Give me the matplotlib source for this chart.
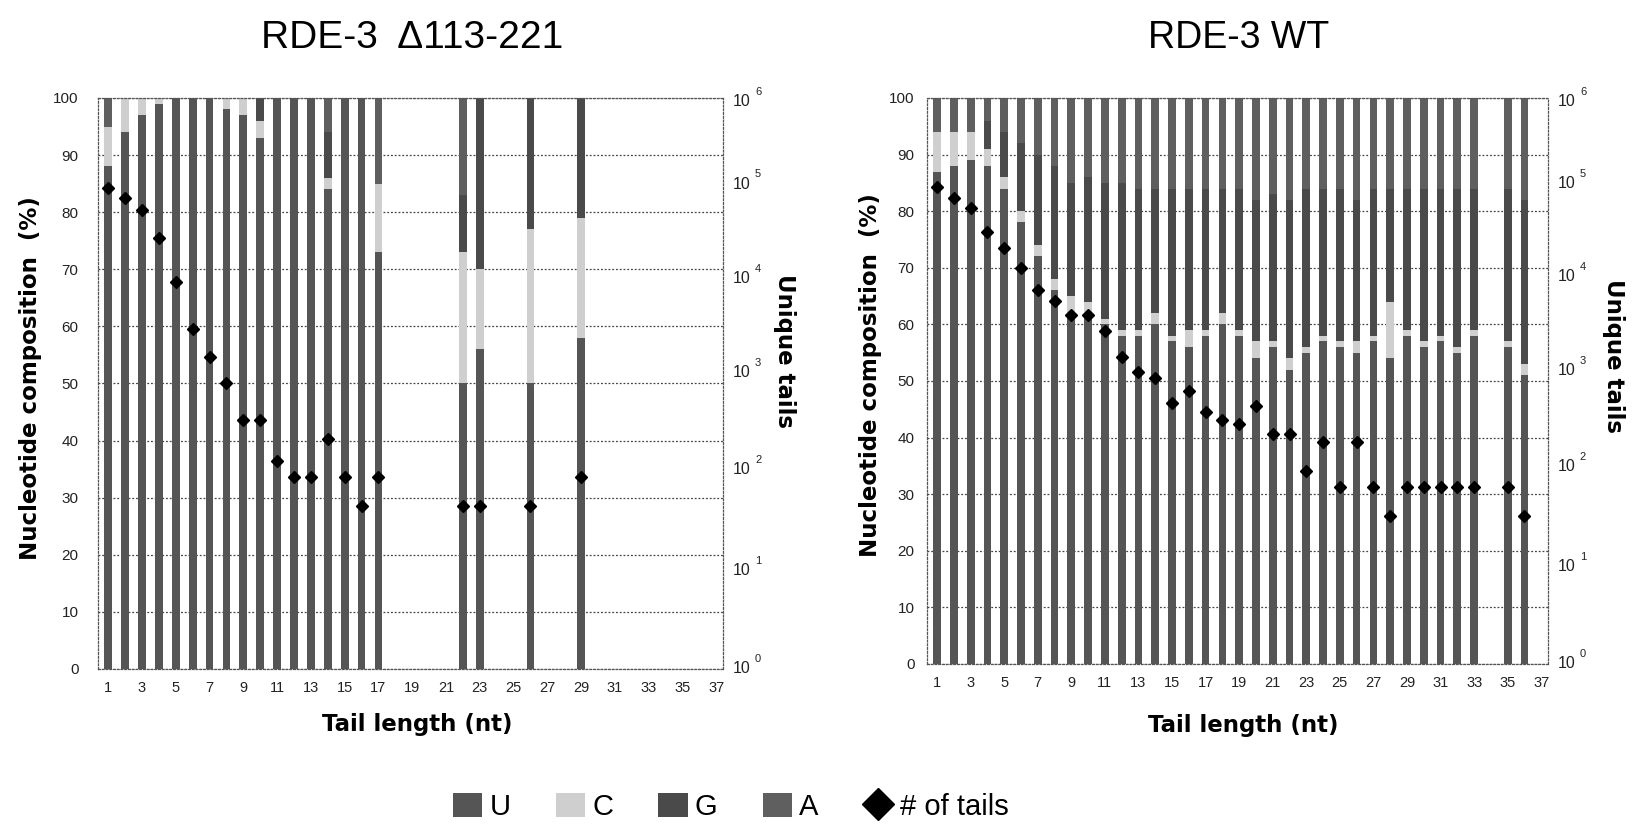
import matplotlib
matplotlib.use("Agg")
import matplotlib.pyplot as plt
from matplotlib.patches import Patch
from matplotlib.lines import Line2D
from matplotlib.ticker import NullLocator

plt.rcParams['font.family'] = ['Liberation Sans', 'DejaVu Sans']

# ---------------- data ----------------
nucleotides = ["U", "C", "G", "A"]
x_ticks = list(range(1, 38, 2))

# RDE-3 delta113-221
del_len = [1, 2, 3, 4, 5, 6, 7, 8, 9, 10, 11, 12, 13, 14, 15, 16, 17, 22, 23, 26, 29]
del_U = [88, 94, 97, 99, 100, 100, 100, 98, 97, 93, 100, 100, 100, 84, 100, 100, 73, 50, 56, 50, 58]
del_C = [7, 6, 3, 1, 0, 0, 0, 2, 3, 3, 0, 0, 0, 2, 0, 0, 12, 23, 14, 27, 21]
del_G = [0, 0, 0, 0, 0, 0, 0, 0, 0, 4, 0, 0, 0, 8, 0, 0, 0, 10, 30, 23, 21]
del_A = [5, 0, 0, 0, 0, 0, 0, 0, 0, 0, 0, 0, 0, 6, 0, 0, 15, 17, 0, 0, 0]
del_tails = [113000, 88000, 66000, 34000, 11600, 3700, 1900, 1000, 415, 415, 155,
             103, 103, 260, 103, 51, 103, 51, 51, 51, 103]

# RDE-3 WT
wt_len = list(range(1, 34)) + [35, 36]
wt_U = [87, 88, 89, 88, 84, 78, 72, 66, 62, 62, 60, 58, 58, 60, 57, 56, 58, 60, 58, 54,
        56, 52, 55, 57, 56, 55, 57, 54, 58, 56, 57, 55, 58, 56, 51]
wt_C = [7, 6, 5, 3, 2, 2, 2, 2, 3, 2, 1, 1, 1, 2, 1, 3, 1, 2, 1, 3,
        1, 2, 1, 1, 1, 2, 1, 10, 1, 1, 1, 1, 1, 1, 2]
wt_G = [0, 0, 0, 5, 8, 12, 16, 20, 20, 22, 24, 26, 25, 22, 26, 25, 25, 22, 25, 25,
        26, 28, 28, 26, 27, 25, 26, 20, 25, 27, 26, 28, 25, 27, 29]
wt_A = [6, 6, 6, 4, 6, 8, 10, 12, 15, 14, 15, 15, 16, 16, 16, 16, 16, 16, 16, 18,
        17, 18, 16, 16, 16, 18, 16, 16, 16, 16, 16, 16, 16, 16, 18]
wt_tails = [114000, 86500, 69000, 38000, 25500, 15900, 9100, 7030, 5060, 5060, 3380,
            1810, 1260, 1080, 578, 782, 466, 386, 350, 547, 274, 274, 112, 227, 75,
            227, 75, 37, 75, 75, 75, 75, 75, 75, 37]

# ---------------- style ----------------
colors = {"U": "#555555", "C": "#cfcfcf", "G": "#4a4a4a", "A": "#5f5f5f"}
grid_col = "#444444"
dot = (0, (1.5, 1.5))

fig = plt.figure(figsize=(16.37, 8.33), dpi=100)
axL = fig.add_axes([0.0599, 0.1969, 0.3818, 0.6855])
axR = fig.add_axes([0.5663, 0.2029, 0.3793, 0.6795])

# vertical offsets (points) of the right-axis labels, as placed in the reference
exp_off = {6: -6, 5: 3.3, 4: 4, 3: 4.5, 2: 3, 1: -1, 0: -3}


def draw(ax, pos, comp, tails, ylab_x, xlab_y, rlab_x, rlab_y, lpad):
    bottom = [0] * len(pos)
    for nt in nucleotides:
        vals = comp[nt]
        ax.bar(pos, vals, width=0.46, bottom=bottom, color=colors[nt],
               edgecolor="none", zorder=2)
        bottom = [b + v for b, v in zip(bottom, vals)]
    ax.set_xlim(0.4, 37.4)
    ax.set_ylim(0, 100)
    ax.set_yticks(range(0, 101, 10))
    ax.set_xticks(x_ticks)
    ax.tick_params(length=0)
    ax.tick_params(axis="y", pad=lpad, labelsize=11, labelcolor="#222222")
    ax.tick_params(axis="x", pad=9, labelsize=10.5, labelcolor="#222222")
    ax.set_axisbelow(True)
    ax.yaxis.grid(True, linestyle=dot, color=grid_col, linewidth=0.9)
    for s in ax.spines.values():
        s.set_linestyle(dot)
        s.set_color("#555555")
        s.set_linewidth(0.9)
    ax.set_ylabel("Nucleotide composition  (%)", fontsize=16.5, fontweight="bold",
                  family=["DejaVu Sans"])
    ax.yaxis.set_label_coords(ylab_x, 0.51)
    ax.set_xlabel("Tail length (nt)", fontsize=16.5, fontweight="bold",
                  family=["DejaVu Sans"])
    ax.xaxis.set_label_coords(0.51, xlab_y)

    ax2 = ax.twinx()
    ax2.set_yscale("log")
    ax2.set_ylim(1, 1e6)
    ax2.set_xlim(0.4, 37.4)
    ax2.plot(pos, tails, linestyle="none", marker="D", color="black",
             markersize=6.5, zorder=5)
    ax2.yaxis.set_major_locator(NullLocator())
    ax2.yaxis.set_minor_locator(NullLocator())
    for s in ax2.spines.values():
        s.set_visible(False)
    for e in range(7):
        off = exp_off[e]
        ax2.annotate("10", xy=(1, 10 ** e), xycoords=("axes fraction", "data"),
                     xytext=(7, off), textcoords="offset points", ha="left",
                     va="baseline", fontsize=11.5, color="#222222",
                     annotation_clip=False)
        ax2.annotate(str(e), xy=(1, 10 ** e), xycoords=("axes fraction", "data"),
                     xytext=(23, off + 8), textcoords="offset points", ha="left",
                     va="baseline", fontsize=8, color="#222222",
                     annotation_clip=False)
    ax2.text(rlab_x, rlab_y, "Unique tails", transform=ax2.transAxes,
             rotation=-90, ha="center", va="center", fontsize=16.5,
             fontweight="bold", family=["DejaVu Sans"])


draw(axL, del_len, {"U": del_U, "C": del_C, "G": del_G, "A": del_A}, del_tails,
     -0.089, -0.077, 1.099, 0.557, 14)
draw(axR, wt_len, {"U": wt_U, "C": wt_C, "G": wt_G, "A": wt_A}, wt_tails,
     -0.072, -0.088, 1.105, 0.545, 9)

fig.text(412 / 1637, 1 - 38 / 833, "RDE-3  \u0394113-221", ha="center", va="center",
         fontsize=28)
fig.text(1239 / 1637, 1 - 38 / 833, "RDE-3 WT", ha="center", va="center",
         fontsize=27)

handles = [Patch(facecolor=colors[nt], edgecolor="none") for nt in nucleotides]
handles.append(Line2D([], [], linestyle="none", marker="D", color="black",
                      markersize=16))
labels = nucleotides + ["# of tails"]
fig.legend(handles, labels, loc="center", bbox_to_anchor=(0.4466, 0.031), ncol=5,
           frameon=False, fontsize=21, handlelength=1.0, handleheight=0.85,
           handletextpad=0.25, columnspacing=1.55)

fig.savefig("out.png", dpi=100)
